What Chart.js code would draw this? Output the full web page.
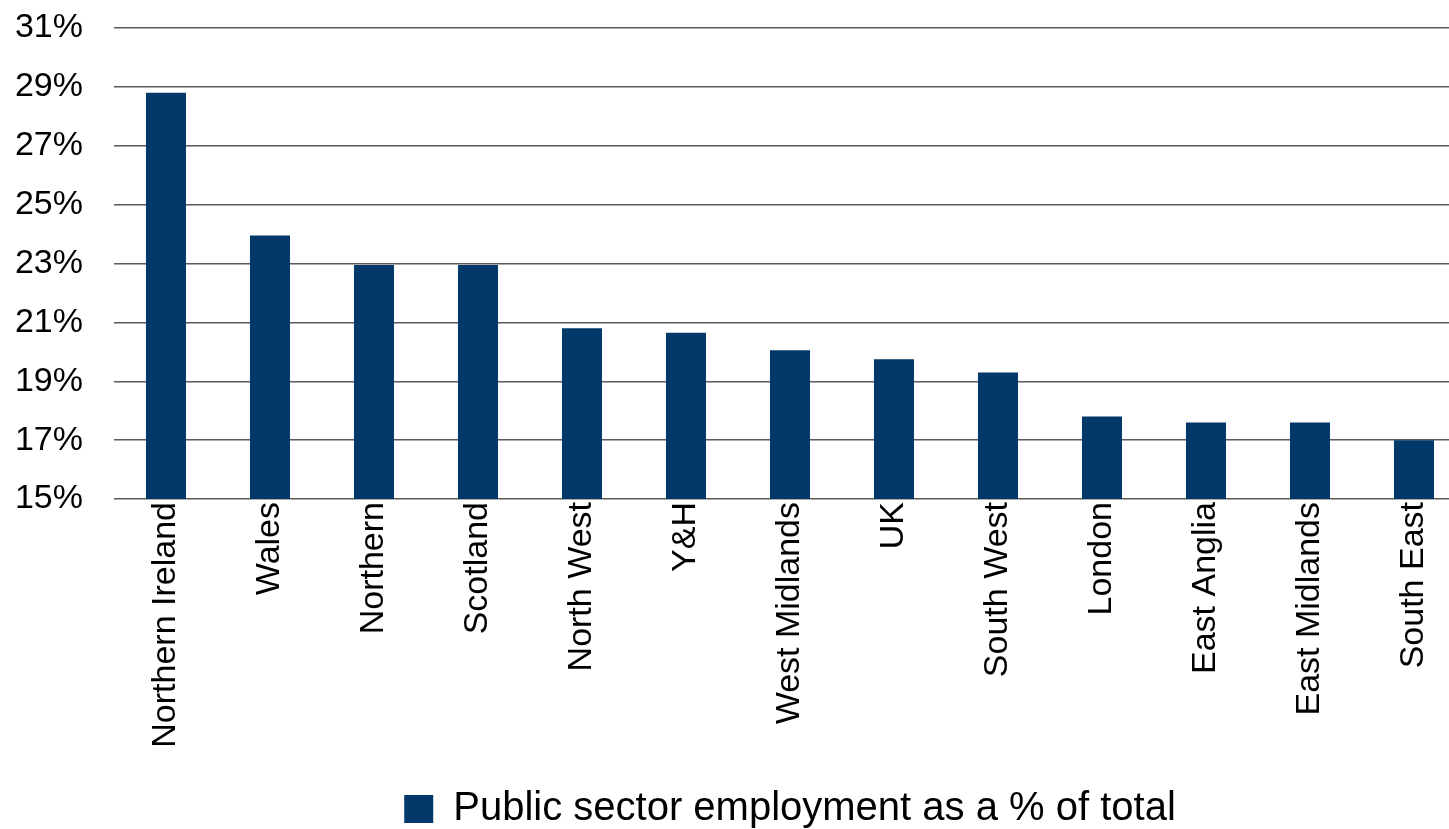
<!DOCTYPE html>
<html>
<head>
<meta charset="utf-8">
<script src="https://cdn.jsdelivr.net/npm/chart.js@4/dist/chart.umd.min.js"></script>
<style>
html,body{margin:0;padding:0;background:#fff;overflow:hidden;}
#wrap{position:relative;width:1470px;height:839px;}
</style>
</head>
<body>
<div id="wrap"><canvas id="grafico"></canvas></div>
<script>
const regioes=["Northern Ireland","Wales","Northern","Scotland","North West","Y&H","West Midlands","UK","South West","London","East Anglia","East Midlands","South East"];
const percentuais=[28.8,23.95,22.95,22.95,20.8,20.65,20.05,19.75,19.3,17.8,17.6,17.6,17.0];
const rotuloSerie="Public sector employment as a % of total";
const yMin=15,yMax=31,yPasso=2;

const familia="'Liberation Sans', Arial, sans-serif";
const fonteEixo={family:familia,size:34};
const fonteLegenda={family:familia,size:40};
const azul="#03386a";

new Chart(document.getElementById("grafico"),{
type:"bar",
data:{labels:regioes,datasets:[{label:rotuloSerie,data:percentuais,backgroundColor:azul,borderWidth:0,categoryPercentage:1,barPercentage:0.385}]},
options:{
responsive:true,maintainAspectRatio:false,animation:false,
layout:{padding:{top:28,right:4,bottom:0,left:0}},
plugins:{
legend:{position:"bottom",fullSize:false,labels:{font:fonteLegenda,color:"#000",boxWidth:29,boxHeight:28,padding:6}},
tooltip:{enabled:false}
},
scales:{
x:{
grid:{display:false},
border:{display:false},
ticks:{font:fonteEixo,color:"#000",minRotation:90,maxRotation:90,autoSkip:false,padding:-5},
// altura fixa da faixa dos rótulos girados, sem folgas extras
afterFit:s=>{s.height=284;s.paddingLeft=0;s.paddingRight=0;s.paddingTop=0;s.paddingBottom=0;}
},
y:{
min:yMin,max:yMax,
grid:{color:"#595959",lineWidth:1.5,drawTicks:false},
border:{display:false},
ticks:{stepSize:yPasso,font:fonteEixo,color:"#000",padding:31,callback:v=>v+"%"},
afterFit:s=>{s.width=114;s.paddingTop=0;s.paddingBottom=0;s.paddingLeft=0;s.paddingRight=0;}
}
}
}
});
</script>
</body>
</html>
